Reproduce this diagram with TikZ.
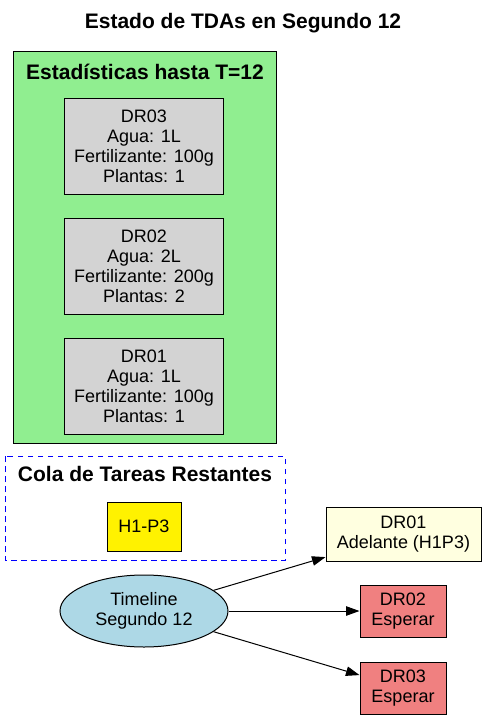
\documentclass[tikz,border=0pt]{standalone}
\usepackage{fontspec}
\setmainfont{Liberation Sans}
\usetikzlibrary{arrows.meta,shapes.geometric}
\definecolor{lgreen}{RGB}{144,238,144}
\definecolor{lgray}{RGB}{211,211,211}
\definecolor{lblue}{RGB}{173,216,230}
\definecolor{lyellow}{RGB}{255,255,224}
\definecolor{lcoral}{RGB}{240,128,128}
\tikzset{
  box/.style={draw=black, line width=1pt, rectangle, inner sep=0pt, align=center,
    font=\fontsize{18}{20}\selectfont},
  statbox/.style={box, fill=lgray, minimum width=159pt, minimum height=96pt},
  waitbox/.style={box, fill=lcoral, minimum width=86pt, minimum height=52pt},
  titletext/.style={font=\fontsize{21}{24}\selectfont\bfseries, inner sep=0pt},
  conn/.style={draw=black, line width=1pt, -{Triangle[length=13.5pt,width=9.5pt]}},
}
\begin{document}
\begin{tikzpicture}[x=1pt,y=-1pt]
\useasboundingbox (0,0) rectangle (486,721);
\node[titletext] (title) at (243,23) {Estado de TDAs en Segundo 12};
% green cluster
\draw[fill=lgreen, draw=black, line width=1pt] (13,51) rectangle (276,443);
\node[titletext] (lab1) at (145,72) {Estadísticas hasta T=12};
\node[statbox] (s3) at (144,146) {DR03\\Agua: 1L\\Fertilizante: 100g\\Plantas: 1};
\node[statbox] (s2) at (144,266) {DR02\\Agua: 2L\\Fertilizante: 200g\\Plantas: 2};
\node[statbox] (s1) at (144,386) {DR01\\Agua: 1L\\Fertilizante: 100g\\Plantas: 1};
% blue dashed cluster
\draw[draw=blue, line width=1pt, dash pattern=on 5.5pt off 4.5pt] (5,456) rectangle (285,560);
\node[titletext] (lab2) at (145,474) {Cola de Tareas Restantes};
\node[box, fill=yellow, minimum width=74pt, minimum height=49pt] (q) at (144,526.5) {H1-P3};
% timeline
\node[draw=black, line width=1pt, ellipse, fill=lblue, minimum width=168pt, minimum height=72pt,
  inner sep=0pt, align=center, font=\fontsize{18}{20}\selectfont] (tl) at (144,611) {Timeline\\Segundo 12};
\node[box, fill=lyellow, minimum width=155pt, minimum height=54pt] (a1) at (403.5,534) {DR01\\Adelante (H1P3)};
\node[waitbox] (a2) at (403,611) {DR02\\Esperar};
\node[waitbox] (a3) at (403,688) {DR03\\Esperar};
\draw[conn] (tl) -- (a1);
\draw[conn] (tl) -- (a2);
\draw[conn] (tl) -- (a3);
\end{tikzpicture}
\end{document}
